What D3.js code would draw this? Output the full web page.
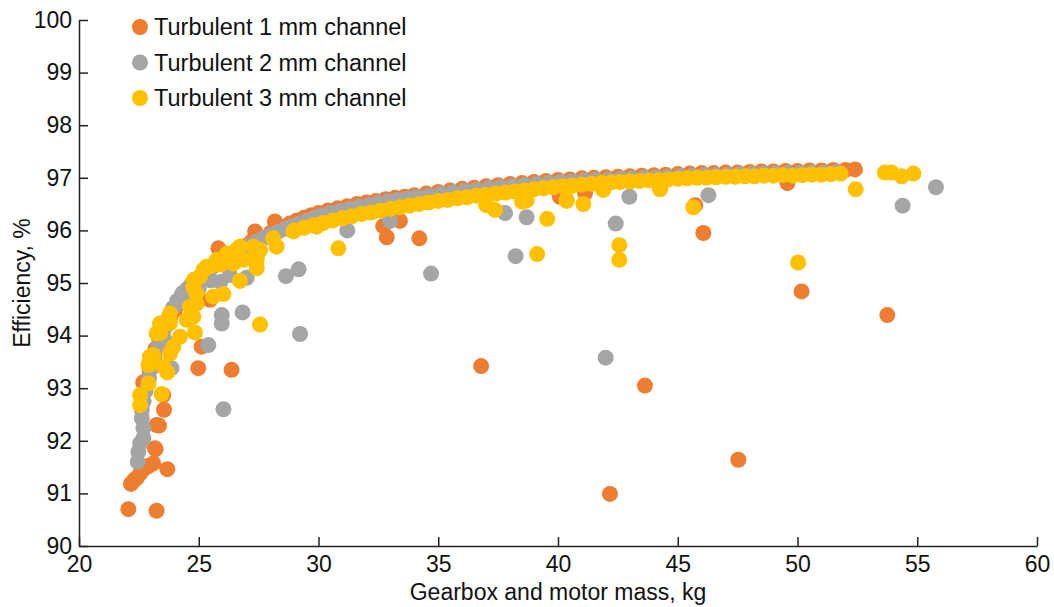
<!DOCTYPE html>
<html>
<head>
<meta charset="utf-8">
<script src="https://cdn.jsdelivr.net/npm/d3@7"></script>
<style>
  html, body { margin: 0; padding: 0; background: #fff; }
  svg { display: block; font-family: "Liberation Sans", Arial, Helvetica, sans-serif; }
</style>
</head>
<body>
<svg id="chart" width="1054" height="607"></svg>
<script>
// Axis setup
const xDomain = [20, 60];
const yDomain = [90, 100];
const xTicks = [20, 25, 30, 35, 40, 45, 50, 55, 60];
const yTicks = [90, 91, 92, 93, 94, 95, 96, 97, 98, 99, 100];
const xTitle = "Gearbox and motor mass, kg";
const yTitle = "Efficiency, %";

const seriesNames = ["Turbulent 1 mm channel", "Turbulent 2 mm channel", "Turbulent 3 mm channel"];
const seriesColors = ["#ED7D31", "#A5A5A5", "#FFC000"];

// Turbulent 1 mm channel: [mass kg, efficiency %]
const turb1 = [
  [22.06, 90.70], [23.24, 90.67], [22.17, 91.18], [22.30, 91.25], [22.41, 91.29], [22.55, 91.38],
  [22.76, 91.48], [22.90, 91.52], [23.10, 91.57], [23.69, 91.46], [23.20, 91.84], [23.17, 91.86],
  [23.24, 92.30], [23.34, 92.29], [23.55, 92.59], [23.52, 92.87], [22.68, 93.11], [24.98, 93.38],
  [26.37, 93.35], [25.12, 93.79], [25.47, 94.68],
  [22.80, 93.15], [22.95, 93.35], [23.05, 93.55], [23.20, 93.75], [23.35, 93.92], [23.50, 94.05],
  [23.65, 94.20], [23.80, 94.33], [24.00, 94.48], [24.20, 94.62], [24.40, 94.76], [24.60, 94.88],
  [24.80, 94.98], [25.00, 95.08], [25.20, 95.16], [25.40, 95.24], [25.60, 95.32], [25.82, 95.66],
  [26.00, 95.45], [26.30, 95.54], [26.60, 95.62], [26.90, 95.70], [27.20, 95.78], [27.35, 95.98],
  [27.60, 95.86], [28.00, 95.95], [28.18, 96.17], [28.50, 96.07], [28.80, 96.13], [29.10, 96.19],
  [29.40, 96.24], [29.70, 96.29], [30.00, 96.33], [30.40, 96.38], [30.80, 96.42], [31.20, 96.46],
  [31.60, 96.50], [32.00, 96.53], [32.40, 96.56], [32.80, 96.59], [33.20, 96.62], [33.60, 96.64],
  [34.00, 96.67], [34.50, 96.70], [35.00, 96.73], [35.50, 96.76], [36.00, 96.79], [36.50, 96.81],
  [37.00, 96.84], [37.50, 96.86], [38.00, 96.88], [38.50, 96.90], [39.00, 96.92], [39.50, 96.94],
  [40.00, 96.96], [40.50, 96.97], [41.00, 96.99], [41.50, 97.00], [42.00, 97.01], [42.50, 97.02],
  [43.00, 97.03], [43.50, 97.04], [44.00, 97.05], [44.50, 97.06], [45.00, 97.07], [45.50, 97.08],
  [46.00, 97.09], [46.50, 97.09], [47.00, 97.10], [47.50, 97.10], [48.00, 97.11], [48.50, 97.12],
  [49.00, 97.12], [49.50, 97.13], [50.00, 97.13], [50.50, 97.14], [51.00, 97.14], [51.50, 97.15],
  [52.00, 97.15], [52.40, 97.16],
  [32.85, 95.87], [32.70, 96.08], [33.40, 96.18], [34.21, 95.85], [36.79, 93.42], [43.63, 93.05],
  [42.17, 90.99], [47.53, 91.64], [50.17, 94.84], [53.75, 94.39], [46.07, 95.95], [45.73, 96.48],
  [49.58, 96.90], [40.08, 96.64], [41.13, 96.71]
];

// Turbulent 2 mm channel
const turb2 = [
  [22.45, 91.60], [22.48, 91.79], [22.55, 91.95], [22.69, 92.05], [22.69, 92.24], [22.62, 92.43],
  [22.62, 92.59], [22.70, 92.75], [22.78, 92.95], [22.92, 93.18], [23.03, 93.38], [23.15, 93.58],
  [23.30, 93.78], [23.45, 93.98], [23.60, 94.17], [23.75, 94.35], [23.92, 94.52], [24.10, 94.66],
  [24.30, 94.78], [24.50, 94.88], [24.70, 94.98], [24.90, 95.06], [25.10, 95.14], [25.30, 95.21],
  [25.50, 95.28], [25.70, 95.35], [25.90, 95.42], [26.20, 95.50], [26.50, 95.57], [26.80, 95.64],
  [27.10, 95.71], [27.40, 95.78], [27.70, 95.85], [28.00, 95.91], [28.30, 95.97], [28.60, 96.03],
  [28.90, 96.08], [29.20, 96.13], [29.50, 96.18], [29.80, 96.23], [30.10, 96.28], [30.50, 96.33],
  [30.90, 96.37], [31.30, 96.41], [31.70, 96.45], [32.10, 96.48], [32.50, 96.52], [32.90, 96.55],
  [33.30, 96.58], [33.70, 96.60], [34.10, 96.63], [34.60, 96.66], [35.10, 96.69], [35.60, 96.72],
  [36.10, 96.75], [36.60, 96.77], [37.10, 96.80], [37.60, 96.82], [38.10, 96.84], [38.60, 96.86],
  [39.10, 96.88], [39.60, 96.90], [40.10, 96.92], [40.60, 96.93], [41.10, 96.95], [41.60, 96.96],
  [42.10, 96.97], [42.60, 96.98], [43.10, 96.99], [43.60, 97.00], [44.10, 97.01], [44.60, 97.02],
  [45.10, 97.03], [45.60, 97.04], [46.10, 97.05], [46.60, 97.05], [47.10, 97.06], [47.60, 97.07],
  [48.10, 97.07], [48.60, 97.08], [49.10, 97.08], [49.60, 97.09], [50.10, 97.09], [50.60, 97.10],
  [51.10, 97.10], [51.60, 97.11],
  [24.22, 94.64], [24.34, 94.81], [24.60, 94.75], [25.00, 94.90], [25.50, 95.05], [25.90, 95.02],
  [26.30, 95.15], [27.00, 95.10], [27.30, 95.45], [23.86, 93.38], [23.60, 93.90],
  [26.03, 92.60], [25.40, 93.82], [25.96, 94.39], [25.96, 94.23], [26.83, 94.44], [29.23, 94.03],
  [29.17, 95.26], [28.64, 95.13], [31.20, 96.00], [32.99, 96.18], [34.70, 95.18], [37.79, 96.33],
  [38.69, 96.25], [38.23, 95.51], [42.41, 96.13], [41.99, 93.58], [42.98, 96.64], [46.28, 96.67],
  [54.39, 96.47], [55.78, 96.82]
];

// Turbulent 3 mm channel
const turb3 = [
  [22.55, 92.68], [22.55, 92.87], [22.90, 93.09], [22.96, 93.47], [22.96, 93.60], [23.10, 93.63],
  [22.90, 93.44], [23.24, 94.04], [23.38, 94.23], [23.40, 94.05], [23.52, 93.41], [23.80, 93.66],
  [23.94, 93.79], [24.22, 93.98], [23.80, 94.24], [23.80, 94.42], [24.50, 94.30], [24.63, 94.55],
  [24.77, 94.36], [24.91, 94.61], [24.90, 94.80], [24.77, 94.93], [24.80, 95.06], [25.05, 95.12],
  [25.20, 95.25], [25.33, 95.31], [25.75, 95.44], [26.17, 95.56], [26.58, 95.63], [26.72, 95.69],
  [26.86, 95.44], [27.42, 95.50], [27.56, 95.63], [27.28, 95.69], [28.11, 95.85], [28.95, 95.98],
  [29.92, 96.07], [26.44, 95.37], [27.42, 95.44], [25.90, 95.35], [25.50, 95.32],
  [29.00, 96.00], [29.40, 96.05], [29.80, 96.10], [30.20, 96.14], [30.60, 96.19], [31.00, 96.23],
  [31.40, 96.27], [31.80, 96.31], [32.20, 96.34], [32.60, 96.38], [33.00, 96.41], [33.40, 96.44],
  [33.80, 96.47], [34.20, 96.50], [34.60, 96.53], [35.00, 96.56], [35.40, 96.58], [35.80, 96.61],
  [36.20, 96.63], [36.60, 96.66], [37.00, 96.68], [37.40, 96.70], [37.80, 96.72], [38.20, 96.74],
  [38.60, 96.76], [39.00, 96.78], [39.40, 96.80], [39.80, 96.82], [40.20, 96.84], [40.60, 96.85],
  [41.00, 96.87], [41.40, 96.88], [41.80, 96.90], [42.20, 96.91], [42.60, 96.92], [43.00, 96.93],
  [43.40, 96.94], [43.80, 96.95], [44.20, 96.96], [44.60, 96.97], [45.00, 96.98], [45.40, 96.99],
  [45.80, 97.00], [46.20, 97.00], [46.60, 97.01], [47.00, 97.02], [47.40, 97.02], [47.80, 97.03],
  [48.20, 97.03], [48.60, 97.04], [49.00, 97.04], [49.40, 97.05], [49.80, 97.04], [50.20, 97.05],
  [50.60, 97.06], [51.00, 97.06], [51.40, 97.07], [51.80, 97.08],
  [37.00, 96.48], [38.50, 96.55], [40.36, 96.56], [41.89, 96.77], [44.26, 96.78],
  [27.56, 94.21], [30.83, 95.66], [28.25, 95.69], [26.03, 94.79], [25.60, 94.74], [26.72, 95.04],
  [27.42, 95.28], [24.84, 94.06], [23.69, 93.30], [23.45, 92.89], [39.13, 95.55], [42.56, 95.72],
  [42.56, 95.44], [39.55, 96.22], [41.06, 96.50], [37.37, 96.39], [38.69, 96.57], [45.65, 96.44],
  [50.03, 95.39], [52.43, 96.78], [44.26, 96.81], [53.65, 97.10], [53.93, 97.10], [54.35, 97.03],
  [54.84, 97.08], [40.36, 96.58]
];

const series = [turb1, turb2, turb3];

const svg = d3.select("#chart");
const margin = { left: 79, right: 17, top: 20, bottom: 61 };
const W = 1054, H = 607;

const x = d3.scaleLinear().domain(xDomain).range([margin.left, W - margin.right]);
const y = d3.scaleLinear().domain(yDomain).range([H - margin.bottom, margin.top]);

const fontSize = 23;
const axisColor = "#222";

// Points, drawn series by series so later series sit on top
const r = 8;
series.forEach((data, i) => {
  svg.append("g")
    .selectAll("circle")
    .data(data)
    .join("circle")
    .attr("cx", d => x(d[0]))
    .attr("cy", d => y(d[1]))
    .attr("r", r)
    .attr("fill", seriesColors[i]);
});

// Axes with inward ticks
const xAxis = d3.axisBottom(x).tickValues(xTicks).tickSizeInner(-9).tickSizeOuter(0).tickPadding(10)
  .tickFormat(d3.format("d"));
const yAxis = d3.axisLeft(y).tickValues(yTicks).tickSizeInner(-9).tickSizeOuter(0).tickPadding(7)
  .tickFormat(d3.format("d"));

const gx = svg.append("g").attr("transform", `translate(0,${H - margin.bottom})`).call(xAxis);
const gy = svg.append("g").attr("transform", `translate(${margin.left},0)`).call(yAxis);

[gx, gy].forEach(g => {
  g.select(".domain").attr("stroke", axisColor).attr("stroke-width", 1.5);
  g.selectAll(".tick line").attr("stroke", axisColor).attr("stroke-width", 1.5);
  g.selectAll(".tick text")
    .attr("fill", "#111")
    .style("font-size", fontSize + "px")
    .style("font-family", '"Liberation Sans", Arial, sans-serif');
});

// Axis titles
svg.append("text")
  .attr("x", (x(xDomain[0]) + x(xDomain[1])) / 2)
  .attr("y", 600)
  .attr("text-anchor", "middle")
  .attr("fill", "#111")
  .style("font-size", fontSize + "px")
  .text(xTitle);

svg.append("text")
  .attr("transform", `translate(30,${(y(yDomain[0]) + y(yDomain[1])) / 2}) rotate(-90)`)
  .attr("text-anchor", "middle")
  .attr("fill", "#111")
  .style("font-size", fontSize + "px")
  .text(yTitle);

// Legend
const legend = svg.append("g").attr("transform", "translate(140,27)");
seriesNames.forEach((name, i) => {
  const row = legend.append("g").attr("transform", `translate(0,${i * 35.5})`);
  row.append("circle").attr("r", r).attr("fill", seriesColors[i]);
  row.append("text")
    .attr("x", 14)
    .attr("dy", "0.36em")
    .attr("fill", "#111")
    .style("font-size", "23.5px")
    .text(name);
});
</script>
</body>
</html>
